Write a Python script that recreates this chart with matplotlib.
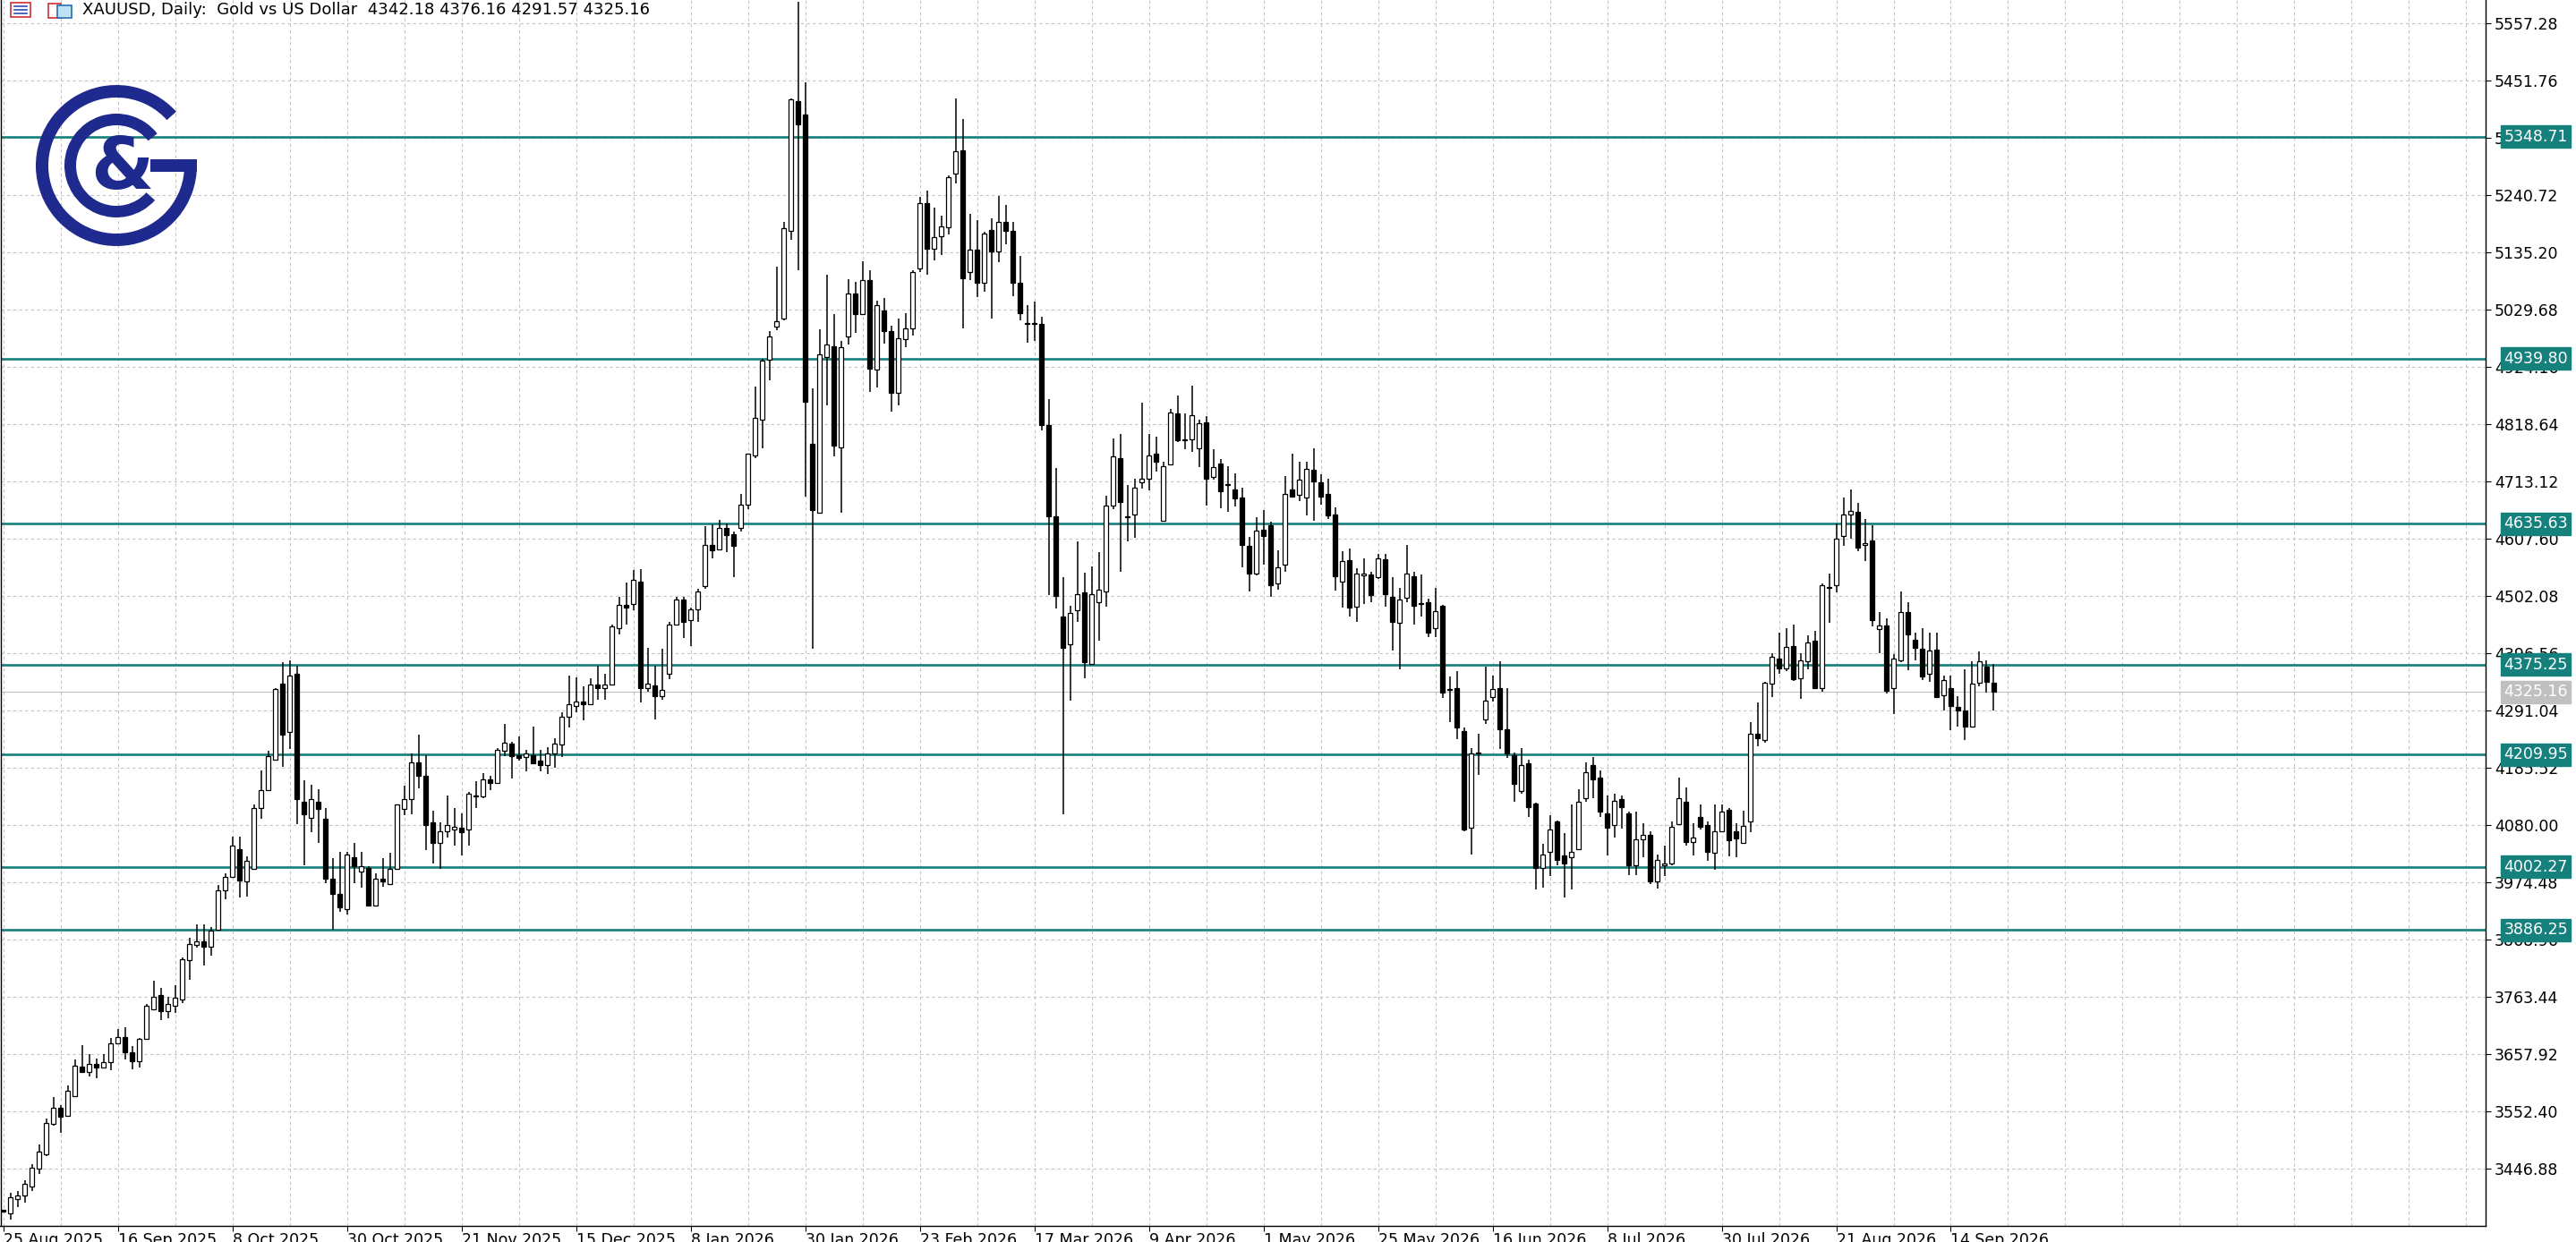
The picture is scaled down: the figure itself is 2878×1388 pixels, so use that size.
import numpy as np
import matplotlib
matplotlib.use("Agg")
import matplotlib.pyplot as plt
from matplotlib.patches import Wedge, Rectangle
import matplotlib.transforms as mtransforms

plt.rcParams['font.family'] = ['DejaVu Sans']

# ---------------- data ----------------
opens = [
3370,3363,3390,3397,3413,3447,3473,3529,3559,3544,
3580,3635,3625,3640,3632,3642,3678,3689,3660,3645,
3686,3740,3767,3736,3747,3758,3831,3859,3866,3855,
3886,3959,3984,4036,3975,3999,4111,4144,4201,4341,
4252,4359,4123,4093,4123,4091,3981,3952,3924,4020,
3994,4001,3931,3980,3971,3999,4110,4127,4196,4171,
4084,4046,4068,4071,4075,4071,4134,4132,4164,4157,
4217,4230,4209,4205,4209,4199,4191,4212,4229,4280,
4300,4307,4303,4339,4332,4339,4443,4486,4488,4529,
4332,4337,4318,4359,4450,4496,4457,4477,4520,4597,
4588,4627,4616,4627,4670,4762,4828,4938,4999,5013,
5176,5414,5390,4783,4656,4943,4963,4776,4980,5059,
5022,5084,4920,5028,4991,4877,4976,4996,5106,5227,
5143,5166,5182,5281,5323,5100,5140,5080,5177,5137,
5191,5176,5080,5006,5004,5004,4817,4649,4465,4413,
4475,4509,4377,4491,4510,4669,4757,4649,4652,4711,
4718,4765,4640,4744,4839,4789,4791,4775,4822,4721,
4746,4707,4699,4684,4594,4543,4625,4633,4525,4560,
4698,4688,4683,4734,4711,4691,4652,4528,4568,4483,
4540,4541,4536,4570,4500,4452,4499,4539,4489,4490,
4443,4484,4329,4332,4253,4074,4211,4274,4316,4332,
4256,4209,4142,4194,4120,4001,4030,4086,4024,4020,
4036,4130,4190,4167,4101,4079,4127,4101,4006,4053,
4062,3975,4005,4009,4082,4122,4048,4094,4079,4028,
4069,4108,4069,4047,4086,4248,4236,4340,4387,4369,
4409,4350,4382,4420,4332,4518,4522,4613,4653,4657,
4596,4605,4441,4448,4332,4384,4473,4422,4405,4358,
4403,4319,4332,4298,4291,4262,4342,4372,4342.18]

highs = [
3371,3401,3405,3425,3454,3490,3539,3578,3564,3600,
3647,3674,3658,3649,3657,3687,3703,3707,3673,3687,
3749,3792,3780,3763,3785,3836,3872,3896,3897,3891,
3970,3991,4059,4059,4022,4117,4180,4217,4333,4380,
4383,4374,4162,4154,4145,4111,4019,4030,4030,4046,
4031,4004,3991,4019,4028,4118,4152,4211,4247,4209,
4106,4084,4134,4111,4101,4141,4160,4175,4171,4221,
4266,4234,4243,4219,4261,4218,4223,4239,4287,4355,
4352,4336,4350,4373,4359,4450,4500,4527,4550,4552,
4407,4373,4404,4455,4500,4500,4480,4516,4631,4634,
4643,4636,4621,4690,4765,4889,4940,4990,5110,5191,
5420,5598,5450,4885,4994,5094,5022,4973,5086,5082,
5119,5102,5047,5051,5000,5013,5023,5102,5238,5250,
5218,5204,5278,5420,5381,5207,5195,5174,5199,5240,
5223,5192,5129,5039,5045,5017,4865,4738,4536,4484,
4603,4545,4556,4583,4687,4792,4801,4706,4718,4858,
4800,4796,4749,4847,4871,4838,4890,4827,4834,4772,
4754,4741,4729,4701,4611,4648,4660,4639,4586,4723,
4764,4749,4749,4774,4727,4718,4665,4585,4589,4553,
4571,4547,4579,4579,4537,4517,4596,4547,4542,4497,
4517,4485,4354,4364,4259,4222,4248,4371,4356,4382,
4332,4214,4222,4200,4121,4045,4098,4088,4065,4117,
4146,4196,4205,4181,4135,4138,4135,4105,4104,4083,
4069,4026,4042,4087,4167,4149,4083,4117,4086,4117,
4117,4111,4083,4106,4269,4305,4343,4396,4434,4442,
4450,4397,4430,4437,4525,4543,4636,4683,4698,4674,
4644,4633,4473,4461,4395,4511,4490,4435,4443,4435,
4435,4356,4356,4318,4367,4381,4400,4383,4376.16]

lows = [
3365,3352,3376,3384,3405,3437,3470,3526,3512,3542,
3578,3623,3616,3613,3631,3628,3676,3647,3629,3633,
3684,3738,3720,3723,3734,3752,3794,3854,3821,3839,
3885,3943,3983,3946,3948,3997,4091,4142,4200,4187,
4220,4082,4006,4067,4046,3973,3886,3920,3915,3973,
3964,3930,3929,3966,3970,3998,4098,4100,4147,4034,
4009,3999,4056,4041,4023,4042,4111,4130,4144,4155,
4207,4166,4198,4178,4193,4178,4173,4185,4205,4260,
4287,4273,4302,4311,4311,4337,4432,4450,4475,4305,
4325,4275,4311,4348,4448,4425,4409,4454,4515,4571,
4586,4583,4537,4621,4662,4757,4774,4899,4992,5010,
5158,5103,4686,4405,4654,4854,4760,4656,4965,4987,
5021,4879,4887,4967,4842,4854,4961,4983,5099,5095,
5121,5131,5168,5262,4996,5084,5053,5063,5014,5118,
5150,5055,5010,4969,4973,4808,4503,4479,4100,4309,
4455,4351,4375,4420,4483,4662,4547,4602,4609,4700,
4697,4731,4639,4743,4786,4773,4768,4739,4669,4716,
4664,4657,4667,4555,4510,4540,4560,4501,4513,4547,
4683,4677,4650,4640,4671,4644,4512,4481,4465,4454,
4488,4491,4534,4483,4401,4367,4490,4449,4464,4427,
4426,4314,4270,4238,4068,4025,4172,4266,4308,4220,
4204,4123,4138,4094,3961,3965,3985,4006,3946,3961,
4034,4123,4129,4094,4024,4056,4073,3987,3987,4020,
3971,3962,3986,4006,4079,4042,4024,4071,4013,3998,
4068,4022,4020,4045,4067,4225,4231,4315,4358,4364,
4345,4312,4367,4330,4325,4452,4508,4595,4607,4584,
4566,4446,4396,4323,4284,4380,4365,4383,4347,4343,
4314,4291,4254,4262,4236,4259,4335,4324,4291.57]

closes = [
3367,3394,3397,3418,3448,3477,3531,3559,3542,3589,
3636,3625,3640,3633,3642,3678,3689,3660,3645,3685,
3747,3763,3736,3749,3762,3833,3860,3866,3856,3885,
3960,3984,4041,3977,4013,4111,4144,4207,4330,4247,
4356,4128,4099,4127,4109,3981,3952,3928,4025,4004,
4004,3931,3980,3976,3999,4117,4128,4196,4171,4080,
4046,4068,4079,4076,4066,4137,4132,4164,4157,4219,
4232,4207,4204,4211,4194,4191,4212,4230,4280,4302,
4307,4303,4339,4332,4339,4446,4486,4480,4532,4332,
4340,4318,4329,4450,4496,4455,4478,4510,4597,4587,
4628,4615,4594,4670,4764,4831,4936,4981,5008,5181,
5418,5371,4860,4660,4947,4965,4779,4961,5059,5022,
5084,4922,5039,4990,4877,4977,4996,5100,5227,5143,
5164,5184,5275,5322,5088,5141,5080,5170,5137,5191,
5176,5080,5024,5004,5005,4817,4649,4502,4407,4471,
4506,4380,4506,4513,4669,4759,4676,4648,4701,4719,
4762,4750,4742,4841,4790,4789,4835,4821,4719,4739,
4695,4707,4682,4596,4544,4622,4613,4522,4555,4691,
4685,4716,4736,4714,4686,4650,4539,4566,4481,4543,
4543,4504,4571,4506,4454,4496,4544,4484,4488,4434,
4474,4324,4329,4260,4071,4211,4213,4309,4330,4256,
4212,4156,4191,4112,4001,4026,4071,4016,4008,4031,
4123,4177,4164,4105,4075,4124,4112,4006,4053,4061,
3976,4015,4008,4077,4130,4049,4056,4077,4030,4068,
4104,4051,4055,4078,4248,4239,4342,4390,4368,4408,
4349,4383,4416,4332,4522,4517,4608,4653,4659,4592,
4600,4457,4447,4328,4386,4473,4431,4406,4354,4401,
4316,4347,4299,4291,4262,4340,4381,4343,4325.16]

date_labels = ["25 Aug 2025", "16 Sep 2025", "8 Oct 2025", "30 Oct 2025", "21 Nov 2025",
               "15 Dec 2025", "8 Jan 2026", "30 Jan 2026", "23 Feb 2026", "17 Mar 2026",
               "9 Apr 2026", "1 May 2026", "25 May 2026", "16 Jun 2026", "8 Jul 2026",
               "30 Jul 2026", "21 Aug 2026", "14 Sep 2026"]
level_lines = [5348.71, 4939.80, 4635.63, 4375.25, 4209.95, 4002.27, 3886.25]
price_ticks = [3446.88, 3552.40, 3657.92, 3763.44, 3868.96, 3974.48, 4080.00, 4185.52,
               4291.04, 4396.56, 4502.08, 4607.60, 4713.12, 4818.64, 4924.16, 5029.68,
               5135.20, 5240.72, 5346.24, 5451.76, 5557.28]
last_price = 4325.16
title = "XAUUSD, Daily:  Gold vs US Dollar  4342.18 4376.16 4291.57 4325.16"

# ---------------- figure ----------------
W, H = 2878, 1388
AX_BOTTOM_PX = 1370
fig = plt.figure(figsize=(W / 100, H / 100), dpi=100)
fig.patch.set_facecolor('white')
ax = fig.add_axes([0.5 / W, 1 - AX_BOTTOM_PX / H, 2776.5 / W, AX_BOTTOM_PX / H])

o = np.array(opens, float); h = np.array(highs, float)
l = np.array(lows, float); c = np.array(closes, float)
x = np.arange(len(c))

ax.set_xlim(-0.42, 346.7)
ax.set_ylim(3340.6, 5601.0)

grid_col = '#c4c4c4'
for gx in range(0, 347, 8):
    ax.axvline(gx, color=grid_col, lw=0.8, ls=(0, (3, 3)), zorder=0)
for gy in price_ticks:
    ax.axhline(gy, color=grid_col, lw=0.8, ls=(0, (3, 3)), zorder=0)

teal = '#16807c'
for lv in level_lines:
    ax.axhline(lv, color=teal, lw=1.9, zorder=1)
ax.axhline(last_price, color='#c0c0c0', lw=0.8, zorder=1)

# candles
ax.vlines(x, np.minimum(l, np.minimum(o, c)), np.maximum(h, np.maximum(o, c)),
          color='black', lw=1.1, zorder=2)
up = c >= o
bw = 0.62
bottoms = np.minimum(o, c)
heights = np.maximum(np.abs(c - o), 1.2)
ax.bar(x[up], heights[up], bottom=bottoms[up], width=bw, color='white',
       edgecolor='black', linewidth=0.9, zorder=3)
ax.bar(x[~up], heights[~up], bottom=bottoms[~up], width=bw, color='black',
       edgecolor='black', linewidth=0.9, zorder=3)

# axes styling
ax.spines['top'].set_visible(False)
for s in ['left', 'right', 'bottom']:
    ax.spines[s].set_linewidth(1.0)
ax.yaxis.tick_right()
ax.set_yticks(price_ticks)
ax.set_yticklabels([f"{v:.2f}" for v in price_ticks])
ax.tick_params(axis='y', direction='out', length=4, pad=3, labelsize=12.5, colors='black')
ax.set_xticks(np.arange(0, 16 * len(date_labels), 16))
ax.set_xticklabels(date_labels, ha='left')
ax.tick_params(axis='x', direction='out', length=4, pad=1, labelsize=12.5)

# price boxes on the right axis
trans = mtransforms.blended_transform_factory(ax.transAxes, ax.transData)
for lv in level_lines:
    ax.text(1.0073, lv, f"{lv:.2f}", transform=trans, ha='left', va='center',
            fontsize=12.5, color='white', zorder=10, clip_on=False,
            bbox=dict(boxstyle='square,pad=0.2', fc=teal, ec=teal))
ax.text(1.0073, last_price, f"{last_price:.2f}", transform=trans, ha='left', va='center',
        fontsize=12.5, color='white', zorder=10, clip_on=False,
        bbox=dict(boxstyle='square,pad=0.2', fc='#c0c0c0', ec='#c0c0c0'))

# overlay in pixel coordinates: header & logo
ov = fig.add_axes([0, 0, 1, 1], zorder=20)
ov.set_xlim(0, W); ov.set_ylim(H, 0); ov.axis('off'); ov.patch.set_alpha(0)
ov.text(92, 11, title, fontsize=13, va='center', ha='left', color='black')
ov.add_patch(Rectangle((12, 3), 22, 16, fc='white', ec='#d03030', lw=1.2))
for yy in (7, 11, 15):
    ov.plot([16, 30], [yy, yy], color='#2a4fb0', lw=1.2)
ov.add_patch(Rectangle((54, 4), 14, 16, fc='white', ec='#d03030', lw=1.2))
ov.add_patch(Rectangle((64, 6), 16, 14, fc='#bfe3f5', ec='#2a6fb0', lw=1.2))

navy = '#1f2a8e'
cx, cy = 130, 185
ov.add_patch(Wedge((cx, cy), 90, 0, 318, width=14, fc=navy, ec='none'))
ov.add_patch(Rectangle((cx + 38, cy - 7), 52, 14, fc=navy, ec='none'))
ov.add_patch(Wedge((cx, cy), 58, 42, 322, width=13, fc=navy, ec='none'))
ov.text(cx + 6, cy + 4, "&", fontsize=58, fontweight='bold', color=navy,
        ha='center', va='center')

fig.savefig("out.png", dpi=100, facecolor='white')
